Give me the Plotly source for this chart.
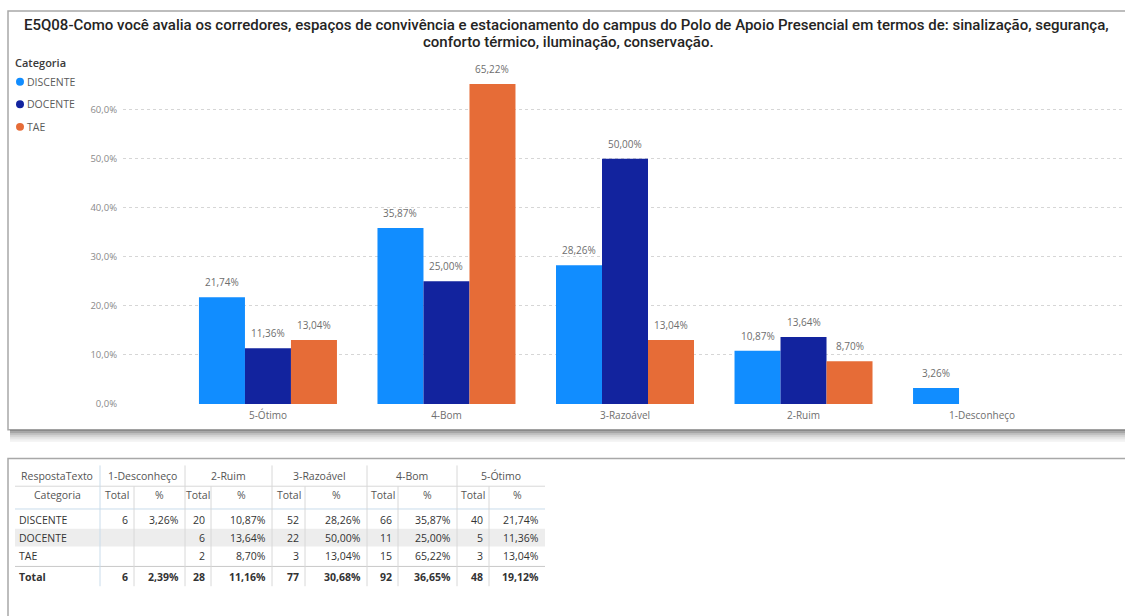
import plotly.graph_objects as go

W, H = 1125, 616

# ---- chart data ----
categorias = ["5-Ótimo", "4-Bom", "3-Razoável", "2-Ruim", "1-Desconheço"]
pct_discente = [21.74, 35.87, 28.26, 10.87, 3.26]
pct_docente = [11.36, 25.00, 50.00, 13.64, None]
pct_tae = [13.04, 65.22, 13.04, 8.70, None]

series_nomes = ["DISCENTE", "DOCENTE", "TAE"]
series_cores = ["#118DFF", "#12239E", "#E66C37"]
y_ticks = [0, 10, 20, 30, 40, 50, 60]

# ---- table data ----
tab_respostas = ["1-Desconheço", "2-Ruim", "3-Razoável", "4-Bom", "5-Ótimo"]
tab_linhas = ["DISCENTE", "DOCENTE", "TAE"]
tab_total_discente = [6, 20, 52, 66, 40]
tab_total_docente = [None, 6, 22, 11, 5]
tab_total_tae = [None, 2, 3, 15, 3]
tab_total_geral = [6, 28, 77, 92, 48]
tab_pct_geral = [2.39, 11.16, 30.68, 36.65, 19.12]

titulo_1 = ("E5Q08-Como você avalia os corredores, espaços de convivência e estacionamento "
            "do campus do Polo de Apoio Presencial em termos de: sinalização, segurança,")
titulo_2 = "conforto térmico, iluminação, conservação."


def px(x):
    return x / W


def py(y):
    return 1 - y / H


def fmt_pct(v, casas=2):
    return "" if v is None else f"{v:.{casas}f}".replace(".", ",") + "%"


def fmt_int(v):
    return "" if v is None else str(v)


# plot area geometry (pixels)
PLOT_X0, PLOT_X1 = 123, 1122
PLOT_Y0, PLOT_Y1 = 408, 71
X_RANGE = [-0.812, 4.784]
BARGAP = 0.227
cat_px = (PLOT_X1 - PLOT_X0) / (X_RANGE[1] - X_RANGE[0])
bar_px = cat_px * (1 - BARGAP) / len(series_nomes)

fig = go.Figure()
ann = []

label_font = dict(family="Open Sans", size=10, color="#6E6E6E")
for i, (nome, vals, cor) in enumerate(zip(series_nomes, [pct_discente, pct_docente, pct_tae],
                                          series_cores)):
    fig.add_trace(go.Bar(
        x=categorias, y=vals, name=nome, marker_color=cor, marker_line_width=0,
        showlegend=False,
    ))
    # value labels above each bar
    for cat, v in zip(categorias, vals):
        if v is None:
            continue
        ann.append(dict(text=fmt_pct(v), x=cat, y=v, xref="x", yref="y",
                        xanchor="center", yanchor="bottom", showarrow=False,
                        xshift=(i - 1) * bar_px, yshift=6, font=label_font))

shapes = []

# card frames
shapes.append(dict(type="rect", xref="paper", yref="paper", x0=px(8), x1=px(1140),
                   y0=py(434), y1=py(11), line=dict(color="#A8A8A8", width=1.5),
                   fillcolor="rgba(0,0,0,0)", layer="below"))
for i, c in enumerate(["#8A8A8A", "#A6A6A6", "#C2C2C2", "#D6D6D6", "#E6E6E6", "#F2F2F2"]):
    shapes.append(dict(type="rect", xref="paper", yref="paper", x0=px(10), x1=px(1140),
                       y0=py(436 + 2 * i), y1=py(434 + 2 * i), line=dict(width=0),
                       fillcolor=c, layer="below"))
shapes.append(dict(type="rect", xref="paper", yref="paper", x0=px(8), x1=px(1140),
                   y0=py(640), y1=py(463), line=dict(color="#A8A8A8", width=1.5),
                   fillcolor="rgba(0,0,0,0)", layer="below"))

# title
tfont_title = dict(family="Roboto", size=15, color="#252423", weight=500)
ann.append(dict(text=titulo_1, x=px(566), y=py(25), xref="paper", yref="paper",
                xanchor="center", yanchor="middle", showarrow=False, font=tfont_title))
ann.append(dict(text=titulo_2, x=px(568), y=py(42), xref="paper", yref="paper",
                xanchor="center", yanchor="middle", showarrow=False, font=tfont_title))

# legend
ann.append(dict(text="Categoria", x=px(13), y=py(63), xref="paper", yref="paper",
                xanchor="left", yanchor="middle", showarrow=False,
                font=dict(family="Open Sans", size=11, color="#3A3A3A", weight=600)))
for i, (nome, cor) in enumerate(zip(series_nomes, series_cores)):
    yc = 82.5 + 22.8 * i
    shapes.append(dict(type="circle", xref="paper", yref="paper",
                       x0=px(16), x1=px(24), y0=py(yc + 4), y1=py(yc - 4),
                       fillcolor=cor, line=dict(width=0)))
    ann.append(dict(text=nome, x=px(25), y=py(yc), xref="paper", yref="paper",
                    xanchor="left", yanchor="middle", showarrow=False,
                    font=dict(family="Open Sans", size=10.5, color="#5A5A5A")))

# ---- table ----
col_edges = [15, 100, 134, 185, 211, 272, 305, 367, 398, 457, 489, 545]
y_h1, y_h2 = 481, 500
y_rows = [525, 543, 561]
y_total = 583
t_top, t_bot = 470, 592
tfont = dict(family="Open Sans", size=10.5, color="#333333")
hfont = dict(family="Open Sans", size=10.5, color="#555555")

# banded row
shapes.append(dict(type="rect", xref="paper", yref="paper", x0=px(15), x1=px(545),
                   y0=py(552), y1=py(534), fillcolor="#EDEDED", line=dict(width=0),
                   layer="below"))
# horizontal rules
for yy, c in [(491, "#D8D8D8"), (514, "#C9DCEB"), (572, "#C8C8C8")]:
    shapes.append(dict(type="line", xref="paper", yref="paper", x0=px(15), x1=px(545),
                       y0=py(yy), y1=py(yy), line=dict(color=c, width=1)))
# vertical rules
for k, xe in enumerate(col_edges[1:-1]):
    if k == 0:
        shapes.append(dict(type="line", xref="paper", yref="paper", x0=px(xe), x1=px(xe),
                           y0=py(t_top), y1=py(t_bot), line=dict(color="#C9DCEB", width=1)))
    elif k % 2 == 0:
        shapes.append(dict(type="line", xref="paper", yref="paper", x0=px(xe), x1=px(xe),
                           y0=py(t_top), y1=py(t_bot), line=dict(color="#D8D8D8", width=1)))
    else:
        shapes.append(dict(type="line", xref="paper", yref="paper", x0=px(xe), x1=px(xe),
                           y0=py(491), y1=py(t_bot), line=dict(color="#D8D8D8", width=1)))

ann.append(dict(text="RespostaTexto", x=px(57), y=py(y_h1), xref="paper", yref="paper",
                xanchor="center", yanchor="middle", showarrow=False, font=hfont))
ann.append(dict(text="Categoria", x=px(57), y=py(y_h2), xref="paper", yref="paper",
                xanchor="center", yanchor="middle", showarrow=False, font=hfont))

linhas_total = [tab_total_discente, tab_total_docente, tab_total_tae]
pct_por_cat = {nome: dict(zip(categorias, vals))
               for nome, vals in zip(series_nomes, [pct_discente, pct_docente, pct_tae])}

for j, resp in enumerate(tab_respostas):
    xl, xm, xr = col_edges[1 + 2 * j], col_edges[2 + 2 * j], col_edges[3 + 2 * j]
    ann.append(dict(text=resp, x=px((xl + xr) / 2), y=py(y_h1), xref="paper", yref="paper",
                    xanchor="center", yanchor="middle", showarrow=False, font=hfont))
    ann.append(dict(text="Total", x=px((xl + xm) / 2), y=py(y_h2), xref="paper", yref="paper",
                    xanchor="center", yanchor="middle", showarrow=False, font=hfont))
    ann.append(dict(text="%", x=px((xm + xr) / 2), y=py(y_h2), xref="paper", yref="paper",
                    xanchor="center", yanchor="middle", showarrow=False, font=hfont))
    for i, nome in enumerate(tab_linhas):
        tot = linhas_total[i][j]
        pc = pct_por_cat[nome][resp]
        ann.append(dict(text=fmt_int(tot), x=px(xm - 4), y=py(y_rows[i]), xref="paper",
                        yref="paper", xanchor="right", yanchor="middle", showarrow=False,
                        font=tfont))
        ann.append(dict(text=fmt_pct(pc), x=px(xr - 4), y=py(y_rows[i]), xref="paper",
                        yref="paper", xanchor="right", yanchor="middle", showarrow=False,
                        font=tfont))
    ann.append(dict(text="<b>" + fmt_int(tab_total_geral[j]) + "</b>", x=px(xm - 4),
                    y=py(y_total), xref="paper", yref="paper", xanchor="right",
                    yanchor="middle", showarrow=False, font=tfont))
    ann.append(dict(text="<b>" + fmt_pct(tab_pct_geral[j]) + "</b>", x=px(xr - 4),
                    y=py(y_total), xref="paper", yref="paper", xanchor="right",
                    yanchor="middle", showarrow=False, font=tfont))

for i, nome in enumerate(tab_linhas):
    ann.append(dict(text=nome, x=px(17), y=py(y_rows[i]), xref="paper", yref="paper",
                    xanchor="left", yanchor="middle", showarrow=False, font=tfont))
ann.append(dict(text="<b>Total</b>", x=px(17), y=py(y_total), xref="paper", yref="paper",
                xanchor="left", yanchor="middle", showarrow=False, font=tfont))

fig.update_layout(
    width=W, height=H,
    margin=dict(l=0, r=0, t=0, b=0),
    paper_bgcolor="white", plot_bgcolor="white",
    separators=",.",
    barmode="group", bargap=BARGAP, bargroupgap=0,
    shapes=shapes, annotations=ann,
    xaxis=dict(domain=[px(PLOT_X0), px(PLOT_X1)], type="category", range=X_RANGE,
               showgrid=False, zeroline=False, showline=False, ticks="",
               ticklabelstandoff=4,
               tickfont=dict(family="Open Sans", size=10, color="#6E6E6E")),
    yaxis=dict(domain=[py(PLOT_Y0), py(PLOT_Y1)], range=[0, 68], tickvals=y_ticks,
               ticktext=[fmt_pct(v, 1) for v in y_ticks],
               showgrid=True, gridcolor="#D6D6D6", ticklabelstandoff=5,
               griddash="dot", gridwidth=1, zeroline=False, showline=False, ticks="",
               tickfont=dict(family="Open Sans", size=9.5, color="#8A8A8A")),
)

fig.write_html("out.html")
